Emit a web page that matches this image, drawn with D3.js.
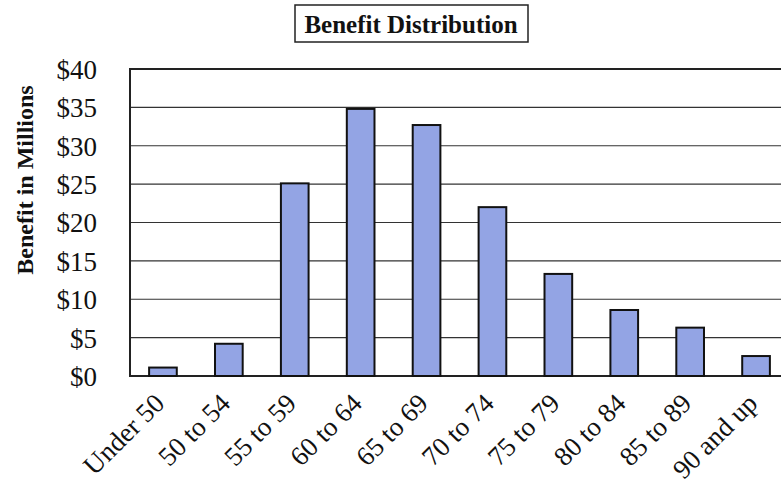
<!DOCTYPE html>
<html><head><meta charset="utf-8">
<script src="https://cdn.jsdelivr.net/npm/d3@7"></script>
<style>body{margin:0;background:#fff;overflow:hidden}</style>
</head><body>
<svg id="c" width="781" height="498"></svg>
<script>
const categories = ["Under 50","50 to 54","55 to 59","60 to 64","65 to 69","70 to 74","75 to 79","80 to 84","85 to 89","90 and up"];
const benefits = [1.1, 4.2, 25.1, 34.8, 32.7, 22.0, 13.3, 8.6, 6.3, 2.6];
const yTicks = [0,5,10,15,20,25,30,35,40];
const title = "Benefit Distribution";
const yTitle = "Benefit in Millions";

const svg = d3.select("#c");
const m = {left:130, top:69, width:659, height:307};
const x = d3.scaleBand().domain(categories).range([m.left, m.left+m.width]).paddingInner(0.58).paddingOuter(0.29);
const y = d3.scaleLinear().domain([0,40]).range([m.top+m.height, m.top]);
const serif = "'Liberation Serif','Times New Roman',serif";

// gridlines
svg.append("g").selectAll("line").data(yTicks.filter(d=>d>0&&d<40)).join("line")
  .attr("x1", m.left).attr("x2", m.left+m.width)
  .attr("y1", d=>y(d)).attr("y2", d=>y(d))
  .attr("stroke","#333").attr("stroke-width",1.2);

// plot border
svg.append("rect").attr("x",m.left).attr("y",m.top).attr("width",m.width).attr("height",m.height)
  .attr("fill","none").attr("stroke","#222").attr("stroke-width",2);

// bars
svg.append("g").selectAll("rect").data(categories).join("rect")
  .attr("x", d=>x(d)).attr("width", x.bandwidth())
  .attr("y", (d,i)=>y(benefits[i])).attr("height", (d,i)=>y(0)-y(benefits[i]))
  .attr("fill","#93a4e4").attr("stroke","#111").attr("stroke-width",2);

// y axis
const yAxis = d3.axisLeft(y).tickValues(yTicks).tickFormat(d=>"$"+d).tickSize(0).tickPadding(33);
const gy = svg.append("g").attr("transform",`translate(${m.left},0)`).call(yAxis);
gy.select(".domain").remove();
gy.selectAll("text").attr("font-family",serif).attr("font-size",27).attr("fill","#111").attr("dy","0.35em");

// x axis
const xAxis = d3.axisBottom(x).tickSize(0).tickPadding(0);
const gx = svg.append("g").attr("transform",`translate(0,${m.top+m.height})`).call(xAxis);
gx.select(".domain").remove();
gx.selectAll("text").attr("font-family",serif).attr("font-size",27).attr("fill","#111")
  .attr("text-anchor","end").attr("dy",null).attr("y",0)
  .attr("transform","translate(3,29) rotate(-45)");

// y title
svg.append("text").attr("transform","translate(33,180) rotate(-90)")
  .attr("text-anchor","middle").attr("font-family",serif).attr("font-weight","bold")
  .attr("font-size",24).attr("fill","#111").text(yTitle);

// chart title
svg.append("rect").attr("x",295).attr("y",5).attr("width",233).attr("height",37)
  .attr("fill","none").attr("stroke","#222").attr("stroke-width",1.5);
svg.append("text").attr("x",411).attr("y",33).attr("text-anchor","middle")
  .attr("font-family",serif).attr("font-weight","bold").attr("font-size",25).attr("fill","#111").text(title);
</script>
</body></html>
